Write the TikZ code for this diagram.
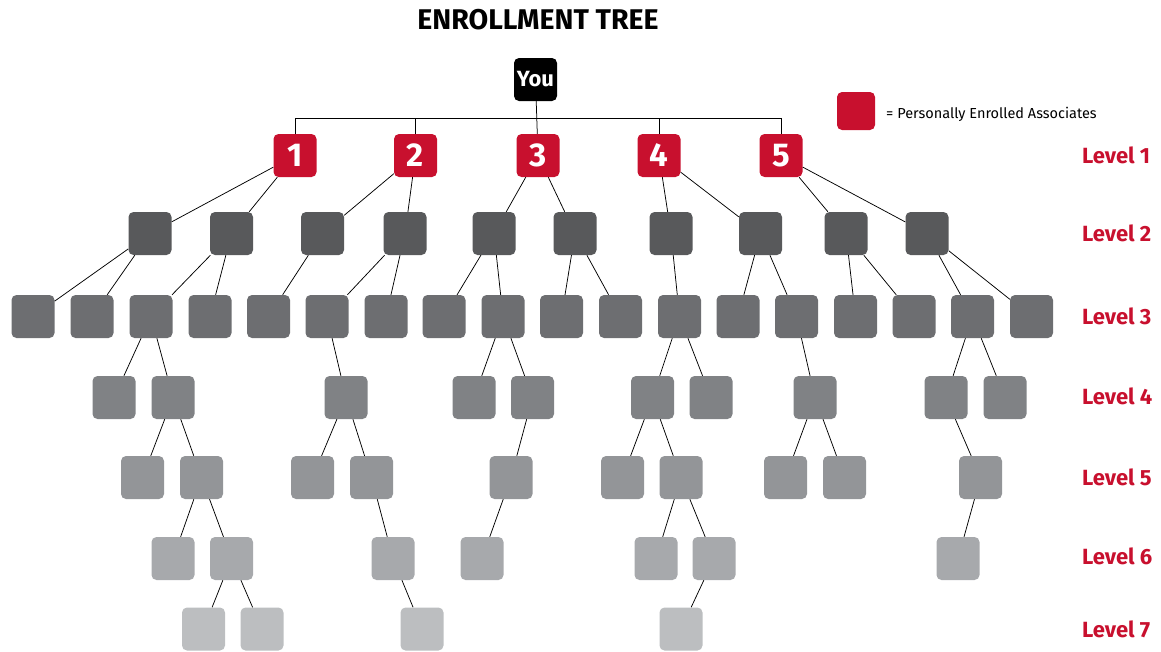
\documentclass[tikz,border=0pt]{standalone}
\usepackage{fontspec}
\setmainfont{Fira Sans}
\definecolor{pered}{HTML}{C8102E}
\definecolor{gA}{HTML}{58595B}
\definecolor{gB}{HTML}{6D6E71}
\definecolor{gC}{HTML}{808285}
\definecolor{gD}{HTML}{939598}
\definecolor{gE}{HTML}{A7A9AC}
\definecolor{gF}{HTML}{BCBEC0}
\tikzset{
  member/.style={rectangle, rounded corners=5pt, minimum width=43pt, minimum height=43pt, inner sep=0pt, draw=none},
  lvlTwo/.style={member, fill=gA},
  lvlThree/.style={member, fill=gB},
  lvlFour/.style={member, fill=gC},
  lvlFive/.style={member, fill=gD},
  lvlSix/.style={member, fill=gE},
  lvlSeven/.style={member, fill=gF},
  enrolled/.style={member, fill=pered, text=white, font=\fontsize{33}{33}\selectfont\bfseries},
  topbox/.style={member, fill=black, text=white, font=\fontsize{22}{22}\selectfont\bfseries},
  link/.style={draw=black, line width=0.75pt},
  levellabel/.style={anchor=west, text=pered, font=\fontsize{22}{22}\selectfont\bfseries, inner sep=0pt},
}
\begin{document}
\begin{tikzpicture}[x=1pt, y=-1pt]
\useasboundingbox (0,0) rectangle (1161,651);

% title
\node (title) at (538,20) {\fontsize{28.5}{28.5}\selectfont\bfseries ENROLLMENT TREE};

% root
\node[topbox] (you) at (535.5,79.5) {You};

% level 1: personally enrolled
\foreach \i/\x in {1/295,2/415.5,3/538,4/659,5/781}
  \node[enrolled] (a\i) at (\x,155.5) {\i};

% level 2
\foreach \i/\x in {1/150,2/231.5,3/322.5,4/405,5/494,6/575,7/671,8/760.5,9/846,10/927}
  \node[lvlTwo] (b\i) at (\x,233.5) {};

% level 3
\foreach \i/\x in {1/33,2/92,3/151,4/210,5/268.5,6/327,7/386,8/444,9/503,10/561.5,11/620.5,12/679.5,13/738,14/796.5,15/855.5,16/914,17/972.5,18/1031.5}
  \node[lvlThree] (c\i) at (\x,316.5) {};

% level 4
\foreach \i/\x in {1/114,2/173,3/346,4/474,5/532.5,6/652.5,7/711,8/815,9/946,10/1005}
  \node[lvlFour] (d\i) at (\x,397.5) {};

% level 5
\foreach \i/\x in {1/142.5,2/201.5,3/312.5,4/371.5,5/511,6/622.5,7/681,8/785.5,9/844.5,10/980.5}
  \node[lvlFive] (e\i) at (\x,477.5) {};

% level 6
\foreach \i/\x in {1/173,2/231.5,3/393,4/482,5/656,6/714,7/958}
  \node[lvlSix] (f\i) at (\x,558.5) {};

% level 7
\foreach \i/\x in {1/203.5,2/262,3/422,4/681}
  \node[lvlSeven] (g\i) at (\x,629) {};

% sponsor bar under the root
\coordinate (bar) at (0,118);
\draw[link] (a1.north) -- (a1.north |- bar) -- (a5.north |- bar) -- (a5.north);
\draw[link] (a2.north) -- (a2.north |- bar);
\draw[link] (a4.north) -- (a4.north |- bar);
\draw[link] (you) -- (a3);

% parent -> child links
\foreach \p/\c in {a1/b1,a1/b2,a2/b3,a2/b4,a3/b5,a3/b6,a4/b7,a4/b8,a5/b9,a5/b10,
  b1/c1,b1/c2,b2/c3,b2/c4,b3/c5,b4/c6,b4/c7,b5/c8,b5/c9,b6/c10,b6/c11,b7/c12,b8/c13,b8/c14,b9/c15,b9/c16,b10/c17,b10/c18,
  c3/d1,c3/d2,c6/d3,c9/d4,c9/d5,c12/d6,c12/d7,c14/d8,c17/d9,c17/d10,
  d2/e1,d2/e2,d3/e3,d3/e4,d5/e5,d6/e6,d6/e7,d8/e8,d8/e9,d9/e10,
  e2/f1,e2/f2,e4/f3,e5/f4,e7/f5,e7/f6,e10/f7,
  f2/g1,f2/g2,f3/g3,f6/g4}
  \draw[link] (\p) -- (\c);

% legend
\node[member, fill=pered, minimum width=38pt, minimum height=38pt] (key) at (856,111) {};
\node[anchor=west, inner sep=0pt, font=\fontsize{14.5}{14.5}\selectfont] (keytext) at (886,114) {= Personally Enrolled Associates};

% level labels
\foreach \n/\y in {1/155,2/233,3/316,4/396,5/477,6/556,7/629}
  \node[levellabel] (lv\n) at (1082,\y) {Level \n};
\end{tikzpicture}
\end{document}
